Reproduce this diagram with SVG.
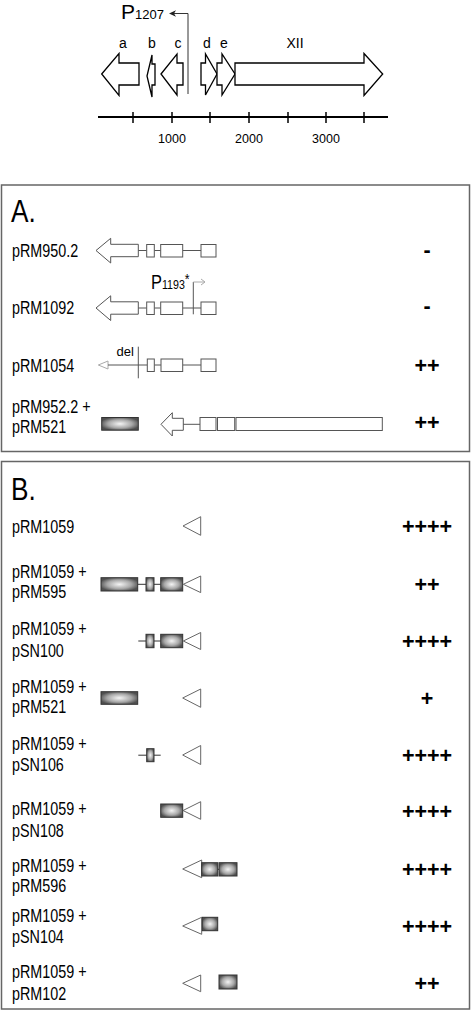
<svg xmlns="http://www.w3.org/2000/svg" width="472" height="1011" viewBox="0 0 472 1011">
<defs>
<radialGradient id="gb" cx="0.5" cy="0.5" r="0.55">
<stop offset="0" stop-color="#f4f4f4"/>
<stop offset="0.6" stop-color="#a8a8a8"/>
<stop offset="1" stop-color="#505050"/>
</radialGradient>
<style>
.map{fill:#fff;stroke:#000;stroke-width:1.3;stroke-linejoin:miter}
.gl{font-family:"Liberation Sans",Arial,sans-serif;font-size:14px;fill:#000;text-anchor:middle}
.tl{font-family:"Liberation Sans",Arial,sans-serif;font-size:12.5px;fill:#000;text-anchor:middle}
.ax{stroke:#000;stroke-width:1.8}
.tk{stroke:#000;stroke-width:1.5}
.panel{fill:none;stroke:#666;stroke-width:1.5}
.lbl{font-family:"Liberation Sans",Arial,sans-serif;font-size:17.5px;fill:#000}
.big{font-family:"Liberation Sans",Arial,sans-serif;font-size:32px;fill:#000}
.res{font-family:"Liberation Sans",Arial,sans-serif;font-size:21.5px;font-weight:bold;fill:#000;text-anchor:middle}
.ob{fill:#fff;stroke:#555;stroke-width:1}
.ln{stroke:#555;stroke-width:1;fill:none}
.lt{stroke:#aaa;stroke-width:1;fill:none}
.gbx{fill:url(#gb);stroke:#333;stroke-width:1}
.dl{stroke:#333;stroke-width:1;fill:none}
.tri{fill:#fff;stroke:#666;stroke-width:1}
</style>
</defs>

<g id="map">
<polygon class="map" points="101.7,74 119,53.5 119,63 139,63 139,85 119,85 119,95.5"/>
<polygon class="map" points="147,76 152,55 152,64 155,64 155,85 152,85 152,97"/>
<polygon class="map" points="161,74 177,54 177,63 183,63 183,85 177,85 177,95"/>
<polygon class="map" points="201,63 205.5,63 205.5,54 217,74 205.5,95 205.5,85 201,85"/>
<polygon class="map" points="217,63 222,63 222,54 235,74 222,95 222,85 217,85"/>
<polygon class="map" points="235,63 364,63 364,53.5 382.7,74 364,95.5 364,85 235,85"/>
<text class="gl" x="123" y="48">a</text>
<text class="gl" x="152" y="48">b</text>
<text class="gl" x="178" y="48">c</text>
<text class="gl" x="207" y="48">d</text>
<text class="gl" x="224" y="48">e</text>
<text class="gl" x="295" y="48">XII</text>
<path d="M188,94 V13.5 H173" fill="none" stroke="#333" stroke-width="1"/>
<polygon points="169,13.5 176,10.3 174,13.5 176,16.7" fill="#222"/>
<text x="121" y="19" font-family="Liberation Sans, Arial, sans-serif" font-size="21" fill="#000">P<tspan font-size="13">1207</tspan></text>
<line class="ax" x1="98" y1="117" x2="388" y2="117"/>
<line class="tk" x1="133" y1="112" x2="133" y2="123"/>
<line class="tk" x1="172" y1="112" x2="172" y2="123"/>
<line class="tk" x1="210" y1="112" x2="210" y2="123"/>
<line class="tk" x1="249" y1="112" x2="249" y2="123"/>
<line class="tk" x1="288" y1="112" x2="288" y2="123"/>
<line class="tk" x1="326" y1="112" x2="326" y2="123"/>
<line class="tk" x1="364" y1="112" x2="364" y2="123"/>
<text class="tl" x="172" y="143">1000</text>
<text class="tl" x="249" y="143">2000</text>
<text class="tl" x="326" y="143">3000</text>
</g>

<g id="panelA">
<rect class="panel" x="1.5" y="185" width="468" height="266.5"/>
<text class="big" transform="translate(11,221.7) scale(0.82,1)">A.</text>
</g>

<g id="A1">
<text class="lbl" transform="translate(12,256.5) scale(0.82,1)">pRM950.2</text>
<polygon class="ob" points="96,250.5 110.7,238.3 110.7,244.3 138.3,244.3 138.3,256.7 110.7,256.7 110.7,263"/>
<path class="ln" d="M138.3,250.5 H146.7 M154.3,250.5 H160.7 M182.7,250.5 H201"/>
<rect class="ob" x="146.7" y="244.5" width="7.6" height="12.5"/>
<rect class="ob" x="160.7" y="244.5" width="22" height="12.5"/>
<rect class="ob" x="201" y="244.5" width="15" height="12.5"/>
<text class="res" x="427" y="256.5">-</text>
</g>

<g id="A2">
<text class="lbl" transform="translate(12,314) scale(0.82,1)">pRM1092</text>
<polygon class="ob" points="96,308 110.7,295.8 110.7,301.8 138.3,301.8 138.3,314.2 110.7,314.2 110.7,320.5"/>
<path class="ln" d="M138.3,308 H146.7 M154.3,308 H160.7 M182.7,308 H201"/>
<rect class="ob" x="146.7" y="302" width="7.6" height="12.5"/>
<rect class="ob" x="160.7" y="302" width="22" height="12.5"/>
<rect class="ob" x="201" y="302" width="15" height="12.5"/>
<line class="ln" x1="193.3" y1="314.3" x2="193.3" y2="282"/>
<path class="lt" d="M193.3,282 H205 M201,279 L205,282 L201,285"/>
<text transform="translate(151,289.3) scale(0.82,1)" font-family="Liberation Sans, Arial, sans-serif" font-size="20" fill="#000">P<tspan font-size="13">1193</tspan><tspan font-size="15" dy="-5">*</tspan></text>
<text class="res" x="427" y="313">-</text>
</g>

<g id="A3">
<text class="lbl" transform="translate(12,372) scale(0.82,1)">pRM1054</text>
<polygon class="lt" points="98.3,365 108,361 108,369"/>
<line class="ln" x1="108" y1="365" x2="147.3" y2="365"/>
<line class="ln" x1="138.3" y1="346.7" x2="138.3" y2="378.3"/>
<text x="116.5" y="356" font-family="Liberation Sans, Arial, sans-serif" font-size="13" fill="#000">del</text>
<path class="ln" d="M154.3,365 H161 M182.7,365 H201"/>
<rect class="ob" x="147.3" y="359" width="7" height="12.5"/>
<rect class="ob" x="161" y="359" width="21.7" height="12.5"/>
<rect class="ob" x="201" y="359" width="15" height="12.5"/>
<text class="res" x="427" y="372.5">++</text>
</g>

<g id="A4">
<text class="lbl" transform="translate(12,413) scale(0.82,1)">pRM952.2 +</text>
<text class="lbl" transform="translate(12,433) scale(0.82,1)">pRM521</text>
<rect class="gbx" x="101.7" y="417.5" width="36.6" height="12.7"/>
<polygon class="ob" points="161,424.3 172.3,412.7 172.3,418.3 183.3,418.3 183.3,430.3 172.3,430.3 172.3,436"/>
<line class="ln" x1="183.3" y1="424.3" x2="200" y2="424.3"/>
<rect class="ob" x="200" y="417.5" width="16" height="13"/>
<rect class="ob" x="217.5" y="417.5" width="17.2" height="13"/>
<rect class="ob" x="236" y="417.5" width="146.3" height="13"/>
<text class="res" x="427" y="429.5">++</text>
</g>

<g id="panelB">
<rect class="panel" x="1.5" y="461.5" width="468" height="547.5"/>
<text class="big" transform="translate(11,500) scale(0.82,1)">B.</text>
</g>

<g id="B1">
<text class="lbl" transform="translate(12,533) scale(0.82,1)">pRM1059</text>
<polygon class="tri" points="183,526 200.7,516.7 200.7,535.3"/>
<text class="res" x="427" y="533.5">++++</text>
</g>

<g id="B2">
<text class="lbl" transform="translate(12,578.3) scale(0.82,1)">pRM1059 +</text>
<text class="lbl" transform="translate(12,598.3) scale(0.82,1)">pRM595</text>
<path class="dl" d="M137.7,584.3 H146 M154,584.3 H160.7"/>
<rect class="gbx" x="101" y="577.7" width="36.7" height="13.3"/>
<rect class="gbx" x="146" y="577.7" width="8" height="13.3"/>
<rect class="gbx" x="160.7" y="577.7" width="22" height="13.3"/>
<polygon class="tri" points="183.3,584.3 200.7,576 200.7,592.6"/>
<text class="res" x="427" y="591.5">++</text>
</g>

<g id="B3">
<text class="lbl" transform="translate(12,635) scale(0.82,1)">pRM1059 +</text>
<text class="lbl" transform="translate(12,656.7) scale(0.82,1)">pSN100</text>
<path class="dl" d="M138.3,641 H146 M154,641 H160.7"/>
<rect class="gbx" x="146" y="634.3" width="8" height="13.4"/>
<rect class="gbx" x="160.7" y="634.3" width="22" height="13.4"/>
<polygon class="tri" points="183.3,641 200.7,632.5 200.7,649.5"/>
<text class="res" x="427" y="648.5">++++</text>
</g>

<g id="B4">
<text class="lbl" transform="translate(12,693.3) scale(0.82,1)">pRM1059 +</text>
<text class="lbl" transform="translate(12,713.3) scale(0.82,1)">pRM521</text>
<rect class="gbx" x="101" y="691.7" width="36.7" height="12.6"/>
<polygon class="tri" points="182.7,698 200.7,689 200.7,707.3"/>
<text class="res" x="427" y="705.5">+</text>
</g>

<g id="B5">
<text class="lbl" transform="translate(12,750) scale(0.82,1)">pRM1059 +</text>
<text class="lbl" transform="translate(12,770.7) scale(0.82,1)">pSN106</text>
<line class="dl" x1="138.3" y1="755.2" x2="160.7" y2="755.2"/>
<rect class="gbx" x="146.7" y="748.7" width="7.3" height="13"/>
<polygon class="tri" points="182.7,755 200.7,745.5 200.7,764.5"/>
<text class="res" x="427" y="762.5">++++</text>
</g>

<g id="B6">
<text class="lbl" transform="translate(12,815) scale(0.82,1)">pRM1059 +</text>
<text class="lbl" transform="translate(12,836.7) scale(0.82,1)">pSN108</text>
<rect class="gbx" x="160.7" y="804" width="22" height="13.3"/>
<polygon class="tri" points="183,810.5 200.7,801.7 200.7,819.3"/>
<text class="res" x="427" y="819">++++</text>
</g>

<g id="B7">
<text class="lbl" transform="translate(12,871.7) scale(0.82,1)">pRM1059 +</text>
<text class="lbl" transform="translate(12,891.7) scale(0.82,1)">pRM596</text>
<polygon class="tri" points="182.7,869 201.7,860 201.7,877.7"/>
<line class="dl" x1="217.7" y1="869.3" x2="219" y2="869.3"/>
<rect class="gbx" x="201.7" y="862.7" width="16" height="13.3"/>
<rect class="gbx" x="219" y="862.7" width="18" height="13.3"/>
<text class="res" x="427" y="876.5">++++</text>
</g>

<g id="B8">
<text class="lbl" transform="translate(12,921.7) scale(0.82,1)">pRM1059 +</text>
<text class="lbl" transform="translate(12,943.3) scale(0.82,1)">pSN104</text>
<polygon class="tri" points="182.7,926 201.7,917.3 201.7,934.3"/>
<rect class="gbx" x="202.3" y="917.3" width="15.4" height="13.4"/>
<text class="res" x="427" y="933.5">++++</text>
</g>

<g id="B9">
<text class="lbl" transform="translate(12,978.3) scale(0.82,1)">pRM1059 +</text>
<text class="lbl" transform="translate(12,1000) scale(0.82,1)">pRM102</text>
<polygon class="tri" points="182.7,983.3 200.7,975 200.7,991.7"/>
<rect class="gbx" x="219" y="975" width="18" height="14"/>
<text class="res" x="427" y="990.7">++</text>
</g>
</svg>
